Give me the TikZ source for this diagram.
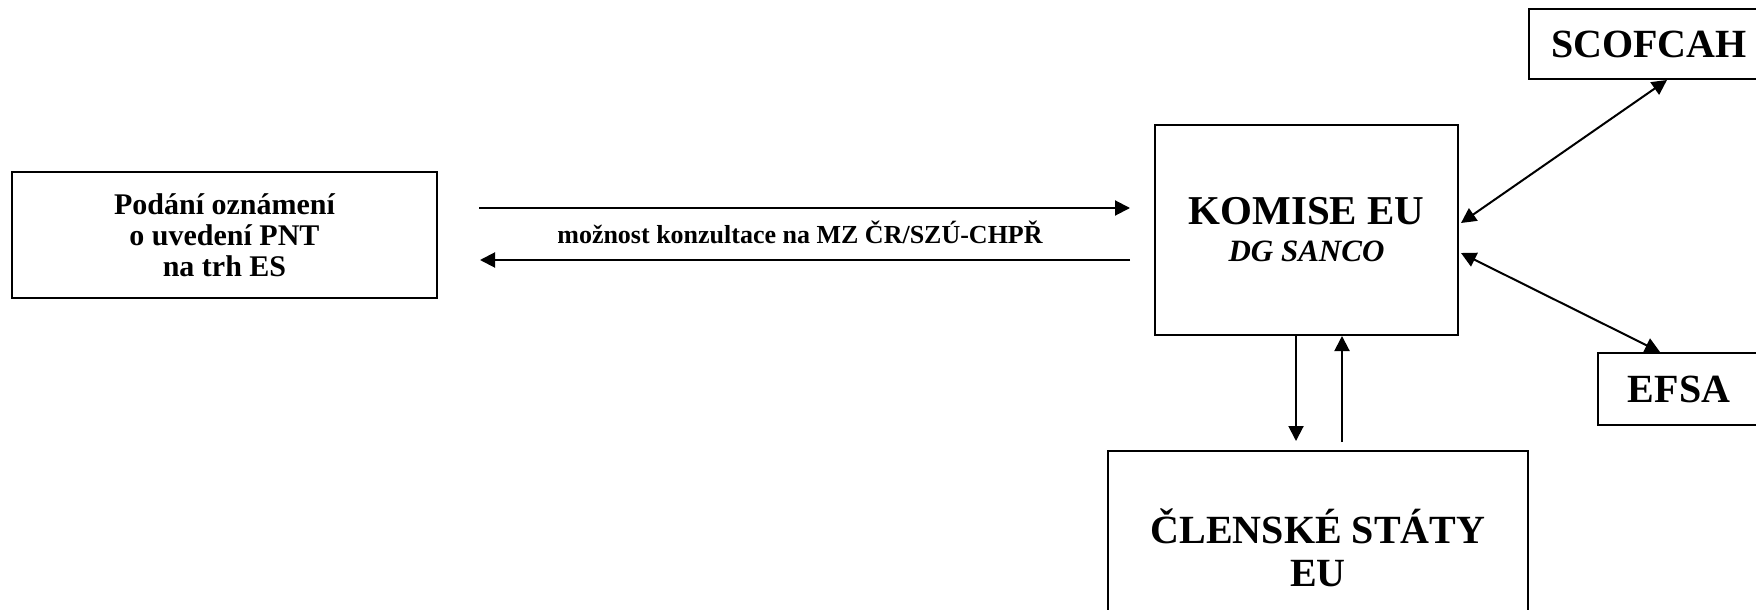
\documentclass[tikz,border=0pt]{standalone}
\usepackage{fontspec}
\setmainfont{Liberation Serif}
\usepackage{tikz}
\usetikzlibrary{calc, positioning}
\usetikzlibrary{arrows.meta}

\tikzset{
  box/.style={draw, line width=1pt, align=center, inner sep=0pt, font=\bfseries},
  arr/.style={line width=1pt, -{Triangle[length=7.5pt,width=7.5pt]}},
  dblarr/.style={line width=1pt, {Triangle[length=7.5pt,width=7.5pt]}-{Triangle[length=7.5pt,width=7.5pt]}}
}

\begin{document}
\begin{tikzpicture}[x=0.5pt,y=0.5pt,yscale=-1,xscale=1]
		\useasboundingbox (0,0) rectangle (1756,610);
		\clip (0,0) rectangle (1756,610);

		%Shape: Rectangle [podani]
		\node [box, minimum width=212.5pt, minimum height=63pt, font=\bfseries\fontsize{15pt}{15.5pt}\selectfont] (pnt) at (224.5,235) {Podání oznámení\\o uvedení PNT\\na trh ES};
		%Shape: Rectangle [komise]
		\node [box, minimum width=151.5pt, minimum height=105pt, font=\bfseries\fontsize{20.5pt}{20pt}\selectfont] (komise) at (1306.5,230) {KOMISE EU\\[-1.5pt]{\fontsize{15.5pt}{20pt}\selectfont\itshape DG SANCO}};
		%Shape: Rectangle [scofcah]
		\node [box, minimum width=120pt, minimum height=35pt, font=\bfseries\fontsize{20pt}{20pt}\selectfont] (scofcah) at (1649,44) {SCOFCAH};
		%Shape: Rectangle [efsa]
		\node [box, minimum width=81pt, minimum height=36pt, font=\bfseries\fontsize{20pt}{20pt}\selectfont] (efsa) at (1679,389) {EFSA};
		%Shape: Rectangle [clenske staty]
		\node [box, minimum width=210pt, minimum height=97pt, font=\bfseries\fontsize{20pt}{21.5pt}\selectfont] (clen) at (1318,548) {ČLENSKÉ STÁTY\\EU};

		% Text Node
		\node [font=\bfseries\fontsize{13pt}{13pt}\selectfont] (konz) at (800,232) {možnost konzultace na MZ ČR/SZÚ-CHPŘ};

		%Straight Lines [horizontal]
		\coordinate (hi) at (0,208);
		\coordinate (lo) at (0,260);
		\draw [arr, shorten <=20.5pt, shorten >=12pt] (pnt.east |- hi) -- (komise.west |- hi);
		\draw [arr, shorten <=12pt, shorten >=21pt] (komise.west |- lo) -- (pnt.east |- lo);

		%Straight Lines [vertical]
		\coordinate (dn) at (1296,0);
		\coordinate (up) at (1342,0);
		\draw [arr, shorten >=4.5pt] (komise.south -| dn) -- (clen.north -| dn);
		\draw [arr, shorten <=4pt] (clen.north -| up) -- (komise.south -| up);

		%Straight Lines [diagonal]
		\draw [dblarr] ($(komise.east)+(2,-7)$) -- ($(scofcah.south)+(18,0)$);
		\draw [dblarr] ($(komise.east)+(2,23)$) -- ($(efsa.north)+(-19,0)$);

\end{tikzpicture}
\end{document}
